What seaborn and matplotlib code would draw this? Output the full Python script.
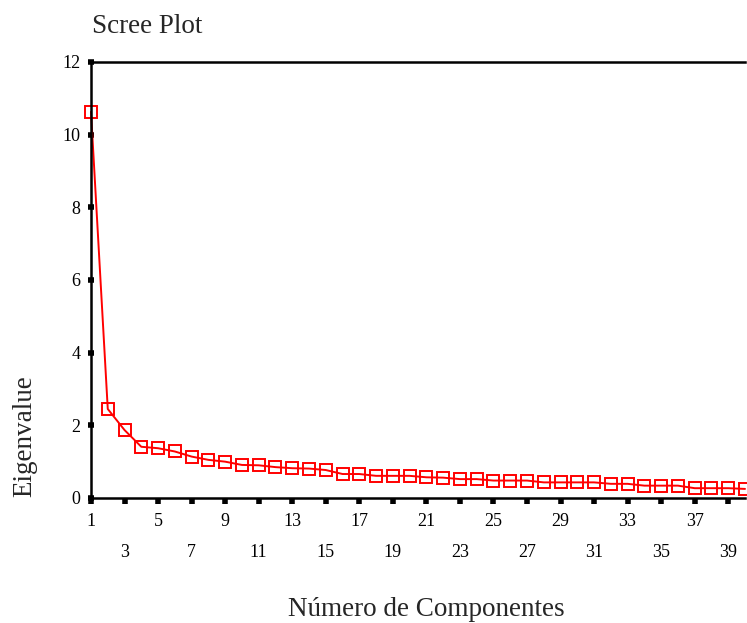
import matplotlib
matplotlib.use("Agg")
import matplotlib.pyplot as plt
import seaborn as sns
import pandas as pd

components = list(range(1, 41))
eigenvalues = [10.63, 2.45, 1.87, 1.41, 1.37, 1.28, 1.14, 1.05, 1.00, 0.91,
               0.90, 0.85, 0.82, 0.81, 0.77, 0.66, 0.66, 0.61, 0.61, 0.61,
               0.57, 0.56, 0.52, 0.52, 0.48, 0.48, 0.48, 0.43, 0.43, 0.43,
               0.43, 0.39, 0.39, 0.34, 0.34, 0.34, 0.27, 0.27, 0.27, 0.25]
major_ticks = list(range(1, 40, 4))
minor_ticks = list(range(3, 40, 4))
y_ticks = [0, 2, 4, 6, 8, 10, 12]

df = pd.DataFrame({"Componente": components, "Eigenvalue": eigenvalues})

sns.set_style("white")
plt.rcParams['font.family'] = ['Liberation Serif', 'DejaVu Serif']

fig = plt.figure(figsize=(7.47, 6.23), dpi=100)
ax = fig.add_axes([91/747, 125/623, 654/747, 436/623])

sns.lineplot(data=df, x="Componente", y="Eigenvalue", ax=ax, color="red",
             marker="s", markersize=8, markerfacecolor="none",
             markeredgecolor="red", markeredgewidth=1.4, linewidth=1.4,
             clip_on=False)

ax.set_xlim(1, 40)
ax.set_ylim(0, 12)
ax.set_yticks(y_ticks)
ax.set_yticklabels([str(v) for v in y_ticks])
ax.set_xticks(major_ticks)
ax.set_xticklabels([str(v) for v in major_ticks])
ax.set_xticks(minor_ticks, minor=True)
ax.set_xticklabels([str(v) for v in minor_ticks], minor=True)

for s in ax.spines.values():
    s.set_color("black")
    s.set_linewidth(1.8)
ax.spines["right"].set_visible(False)

ax.tick_params(axis="y", which="both", direction="inout", length=5, width=4,
               colors="black", labelsize=13, pad=5, left=True)
ax.tick_params(axis="x", which="major", direction="out", length=4, width=4,
               colors="black", labelsize=13, pad=7, bottom=True)
ax.tick_params(axis="x", which="minor", direction="out", length=4, width=4,
               colors="black", labelsize=13, pad=29, bottom=True)

ax.set_xlabel("Número de Componentes", fontsize=19.5)
ax.xaxis.set_label_coords((426-91)/654, (498-610)/436)
ax.xaxis.label.set_va("center")
ax.set_ylabel("Eigenvalue", fontsize=19.5)
ax.yaxis.set_label_coords((25-91)/654, (498-436)/436)
ax.yaxis.label.set_va("center")

fig.text(92/747, 1-33/623, "Scree Plot", fontsize=19.5, ha="left", va="baseline")

fig.savefig("out.png", dpi=100)
